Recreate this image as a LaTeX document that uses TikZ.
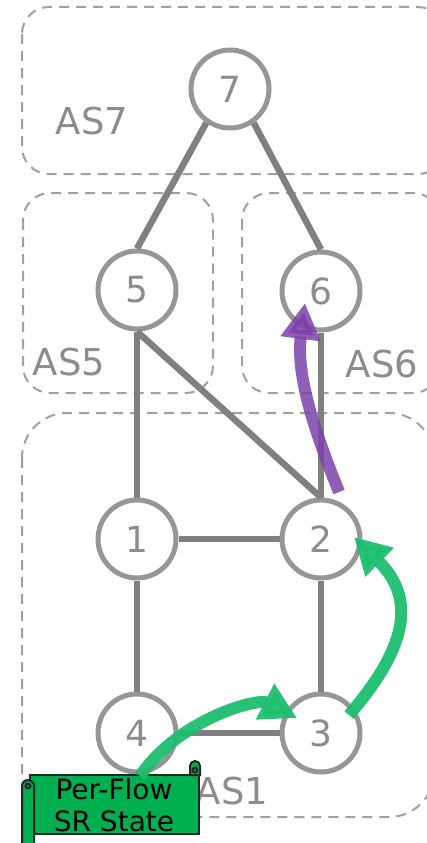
\documentclass[tikz,border=0pt]{standalone}
\usepackage{fontspec}
\setmainfont{DejaVu Sans}
\usetikzlibrary{arrows.meta}
\definecolor{nodegray}{RGB}{150,150,150}
\definecolor{edgegray}{RGB}{128,128,128}
\definecolor{boxgray}{RGB}{160,160,160}
\definecolor{labelgray}{RGB}{140,140,140}
\definecolor{flowgreen}{RGB}{30,190,110}
\definecolor{flowpurple}{RGB}{125,65,170}
\definecolor{bannergreen}{RGB}{0,176,80}
\tikzset{
  router/.style={circle, draw=nodegray, line width=5pt, fill=white, minimum size=78pt, inner sep=0pt,
    text=labelgray, font=\fontsize{36}{36}\selectfont},
  link/.style={draw=edgegray, line width=6.5pt},
  asbox/.style={draw=boxgray, line width=2pt, dash pattern=on 10pt off 7pt},
  aslabel/.style={text=labelgray, font=\fontsize{37}{37}\selectfont, inner sep=0pt},
  greenflow/.style={draw=flowgreen, opacity=0.95, line width=12pt, -{Triangle[length=36pt,width=38pt]}},
  purpleflow/.style={draw=flowpurple, opacity=0.85, line width=12pt, -{Triangle[length=36pt,width=38pt]}},
  scroll/.style={fill=bannergreen, draw=black!85, line width=2pt},
}
\begin{document}
\begin{tikzpicture}[x=1pt,y=-1pt]
\useasboundingbox (0,0) rectangle (426,843);
% AS boxes
\draw[asbox, rounded corners=27pt] (22,7) rectangle (445,174);
\draw[asbox, rounded corners=27pt] (23,193) rectangle (213,393);
\draw[asbox, rounded corners=27pt] (242,193) rectangle (440,393);
\draw[asbox, rounded corners=45pt] (22,413) -- (22,817) -- (434,817) -- (434,413) -- cycle;
% labels
\node[aslabel] (las7) at (92,121) {AS7};
\node[aslabel] (las5) at (69,362) {AS5};
\node[aslabel] (las6) at (382,364) {AS6};
\node[aslabel] (las1) at (232,791) {AS1};
% routers
\node[router] (n7) at (230,89) {7};
\node[router] (n5) at (137,290) {5};
\node[router] (n6) at (321,291) {6};
\node[router] (n1) at (137,539) {1};
\node[router] (n2) at (321,539) {2};
\node[router] (n4) at (137,733) {4};
\node[router] (n3) at (321,733) {3};
% links
\path[link] (n7.235) -- (n5.north);
\path[link] (n7.305) -- (n6.north);
\path[link] (n5.south) -- (n1.north);
\path[link] (n5.south) -- (n2.north);
\path[link] (n6.south) -- (n2.north);
\path[link] (n1.east) -- (n2.west);
\path[link] (n1.south) -- (n4.north);
\path[link] (n2.south) -- (n3.north);
\path[link] (n4.east) -- (n3.west);
% banner
\draw[scroll] (30,775) -- (199,775) -- (199,834) -- (30,834) -- cycle;
\draw[scroll] (190,775) -- (190,766) arc[start angle=180, end angle=0, radius=5pt] -- (200,775) -- cycle;
\draw[scroll, fill=bannergreen!80!black] (195,770) circle[radius=2.5pt];
\draw[scroll] (22,786) arc[start angle=180, end angle=0, radius=6pt] -- (34,845) -- (22,845) -- cycle;
\draw[scroll, fill=bannergreen!80!black] (28,786) circle[radius=2.5pt];
\node[inner sep=0pt, align=center, font=\fontsize{28}{32}\selectfont, text=black] (banner) at (114,805) {Per-Flow\\SR State};
% flows
\coordinate (f1s) at (140,776);
\coordinate (f2s) at (349,715);
\coordinate (f3s) at (339,492);
\draw[greenflow] (f1s) .. controls (180,718) and (258,698) .. (297,718);
\draw[greenflow] (f2s) .. controls (405,650) and (418,600) .. (354,537);
\draw[purpleflow] (f3s) .. controls (314,430) and (296,375) .. (305,303);
\end{tikzpicture}
\end{document}
